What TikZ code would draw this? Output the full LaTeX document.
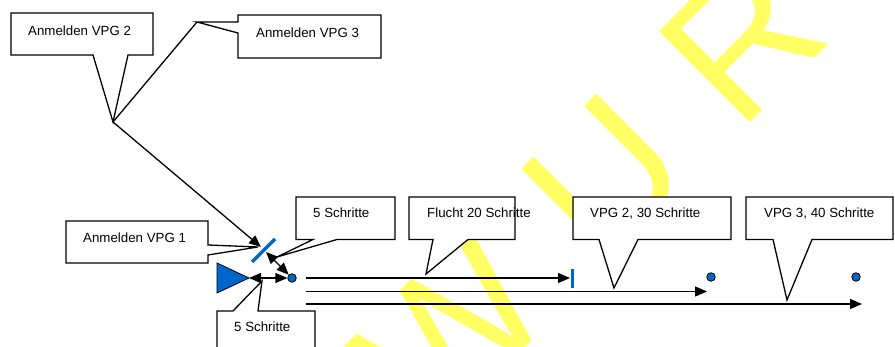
\documentclass[tikz,border=0pt]{standalone}
\usepackage{fontspec}
\setmainfont{Liberation Sans}
\usetikzlibrary{arrows.meta}
\definecolor{vblue}{RGB}{0,102,204}
\definecolor{wmyellow}{RGB}{255,255,100}
\begin{document}
\begin{tikzpicture}[x=1pt,y=-1pt,
  callout/.style={draw=black,fill=white,line width=1.3pt,line join=miter},
  lbl/.style={anchor=base west,inner sep=0pt,font=\fontsize{13.3}{16}\selectfont},
  conn/.style={draw=black,line width=1.3pt},
  arr/.style={conn,-{Triangle[length=12pt,width=10pt]}},
  darr/.style={conn,{Triangle[length=12pt,width=10pt]}-{Triangle[length=12pt,width=10pt]}},
  wm/.style={anchor=base west,inner sep=0pt,rotate=45,text=wmyellow,font=\fontsize{187}{187}\selectfont},
  dot/.style={circle,draw=black,fill=vblue,line width=0.8pt,minimum size=8.5pt,inner sep=0pt},
  bluemark/.style={draw=vblue,line width=3.5pt}
]
\useasboundingbox (0,0) rectangle (895,347);
\clip (0,0) rectangle (895,347);
\fill[white] (0,0) rectangle (895,347);

% watermark (only the visible letters)
\node[wm] (wmW) at (434.4,438.6) {W};
\node[wm] (wmU) at (602,271) {U};
\node[wm] (wmR) at (739.8,133.2) {R};

% tips of callouts
\coordinate (t2) at (113,122);
\coordinate (t3) at (197,22);
\coordinate (t1) at (258,247);
\coordinate (t5a) at (277,257);
\coordinate (t5b) at (262,281);
\coordinate (tFl) at (426,274);
\coordinate (tV2) at (614,288);
\coordinate (tV3) at (787,300);

% callouts
\draw[callout] (11,13) -- (153,13) -- (153,55) -- (128,55) -- (t2) -- (93,55) -- (11,55) -- cycle;
\node[lbl] (l2) at (28,35.5) {Anmelden VPG 2};
\draw[callout] (238,15) -- (381,15) -- (381,58) -- (238,58) -- (238,33) -- (t3) -- (238,22) -- cycle;
\node[lbl] (l3) at (256,37.5) {Anmelden VPG 3};
\draw[callout] (66,221) -- (208,221) -- (208,245) -- (t1) -- (208,255) -- (208,263) -- (66,263) -- cycle;
\node[lbl] (l1) at (83,242.5) {Anmelden VPG 1};
\draw[callout] (296,197) -- (395,197) -- (395,239.5) -- (337,239.5) -- (t5a) -- (313,239.5) -- (296,239.5) -- cycle;
\node[lbl] (l5a) at (313,218) {5 Schritte};
\draw[callout] (217,360) -- (217,311) -- (233,311) -- (t5b) -- (258,311) -- (315,311) -- (315,360) -- cycle;
\node[lbl] (l5b) at (234,332) {5 Schritte};
\draw[callout] (409,197) -- (515,197) -- (515,239.5) -- (468,239.5) -- (tFl) -- (433,239.5) -- (409,239.5) -- cycle;
\node[lbl] (lFl) at (427,218) {Flucht 20 Schritte};
\draw[callout] (573,197) -- (731,197) -- (731,239.5) -- (638,239.5) -- (tV2) -- (599,239.5) -- (573,239.5) -- cycle;
\node[lbl] (lV2) at (590,218) {VPG 2, 30 Schritte};
\draw[callout] (746,197) -- (893,197) -- (893,239.5) -- (812,239.5) -- (tV3) -- (773,239.5) -- (746,239.5) -- cycle;
\node[lbl] (lV3) at (764,218) {VPG 3, 40 Schritte};

% blue slash and start triangle
\coordinate (slA) at (252,262);
\coordinate (slB) at (275,239);
\coordinate (slHit) at (261,247);
\coordinate (slLow) at (266,252);
\draw[bluemark] (slA) -- (slB);
\coordinate (trA) at (217,263);
\coordinate (trTip) at (249,278);
\coordinate (trC) at (217,293);
\draw[fill=vblue,draw=black,line width=0.8pt] (trA) -- (trTip) -- (trC) -- cycle;
\node[dot] (c0) at (292,278) {};

% connectors
\draw[conn] (t3) -- (t2);
\draw[arr] (t2) -- (slHit);
\draw[darr] (trTip) -- (c0.west);
\draw[darr] (slLow) -- (c0.north west);

% horizontal arrows
\coordinate (s1) at (306,278);
\coordinate (e1) at (570,278);
\coordinate (s2) at (306,291.5);
\coordinate (e2) at (707,291.5);
\coordinate (s3) at (306,304);
\coordinate (e3) at (862,304);
\draw[arr] (s1) -- (e1);
\draw[arr] (s2) -- (e2);
\draw[arr] (s3) -- (e3);
\coordinate (tkA) at (572,269);
\coordinate (tkB) at (572,288);
\draw[draw=vblue,line width=3pt] (tkA) -- (tkB);
\node[dot] (d2) at (711,277) {};
\node[dot] (d3) at (856,277) {};
\end{tikzpicture}
\end{document}
